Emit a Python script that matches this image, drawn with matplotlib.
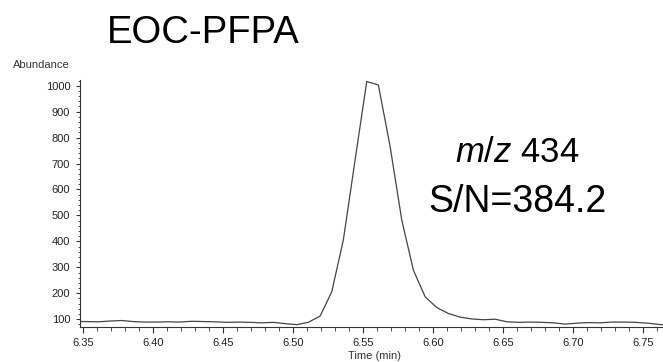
import matplotlib
matplotlib.use("Agg")
import matplotlib.pyplot as plt
from matplotlib.ticker import MultipleLocator

plt.rcParams['font.family'] = ['Liberation Sans', 'DejaVu Sans']
plt.rcParams['mathtext.fontset'] = 'custom'
plt.rcParams['mathtext.rm'] = 'Liberation Sans'
plt.rcParams['mathtext.it'] = 'Liberation Sans:italic'

# extracted ion chromatogram, m/z 434
time_min = [6.3443, 6.3526, 6.3609, 6.3693, 6.3776, 6.3859, 6.3943, 6.4026,
            6.4109, 6.4193, 6.4276, 6.4359, 6.4443, 6.4526, 6.4609, 6.4693,
            6.4776, 6.4859, 6.4943, 6.5026, 6.5109, 6.5193, 6.5276, 6.5359,
            6.5443, 6.5526, 6.5609, 6.5693, 6.5776, 6.5859, 6.5943, 6.6026,
            6.6109, 6.6193, 6.6276, 6.6359, 6.6443, 6.6526, 6.6609, 6.6693,
            6.6776, 6.6859, 6.6943, 6.7026, 6.7109, 6.7193, 6.7276, 6.7359,
            6.7443, 6.7526, 6.7609, 6.7693]
abundance = [91, 91, 90, 93, 95, 91, 89, 89,
             90, 89, 92, 91, 90, 88, 89, 88,
             86, 88, 83, 79, 88, 112, 205, 405,
             714, 1016, 1003, 765, 482, 289, 186, 145,
             122, 108, 101, 98, 100, 90, 88, 89,
             88, 86, 81, 85, 87, 86, 89, 89,
             88, 85, 80, 76]

title = "EOC-PFPA"
ion_label = r"$m/z$ 434"
sn_label = "S/N=384.2"

W, H = 663, 362
fig = plt.figure(figsize=(W / 100, H / 100), dpi=100)
ax = fig.add_axes([80 / W, 35 / H, 583 / W, 247 / H])

ax.plot(time_min, abundance, color='#444444', lw=0.9)

ax.set_xlim(6.348, 6.764)
ax.set_ylim(70, 1022)
ax.xaxis.set_major_locator(MultipleLocator(0.05))
ax.xaxis.set_minor_locator(MultipleLocator(0.01))
ax.yaxis.set_major_locator(MultipleLocator(100))
ax.yaxis.set_minor_locator(MultipleLocator(20))
ax.xaxis.set_major_formatter(plt.FormatStrFormatter('%.2f'))
ax.set_yticks([100, 200, 300, 400, 500, 600, 700, 800, 900, 1000])

for side in ('top', 'right'):
    ax.spines[side].set_visible(False)
for side in ('left', 'bottom'):
    ax.spines[side].set_color('#333333')
    ax.spines[side].set_linewidth(0.8)

ax.tick_params(axis='both', which='major', labelsize=8, colors='#333333',
               labelcolor='#222222', width=0.8)
ax.tick_params(axis='x', which='major', length=4, pad=4)
ax.tick_params(axis='x', which='minor', length=3, width=0.6, color='#333333')
ax.tick_params(axis='y', which='major', length=3, pad=4)
ax.tick_params(axis='y', which='minor', length=1.5, width=0.6, color='#333333')

fig.text(13 / W, 1 - 65 / H, "Abundance", fontsize=8, color='#333333',
         va='center', ha='left')
fig.text(375 / W, 1 - 356 / H, "Time (min)", fontsize=8, color='#333333',
         va='center', ha='center')

fig.text(107 / W, 1 - 43 / H, title, fontsize=27.5, color='black',
         va='baseline', ha='left')
fig.text(517 / W, 1 - 162 / H, ion_label, fontsize=25, color='black',
         va='baseline', ha='center')
fig.text(517 / W, 1 - 212 / H, sn_label, fontsize=27, color='black',
         va='baseline', ha='center')

fig.savefig("out.png", dpi=100)
